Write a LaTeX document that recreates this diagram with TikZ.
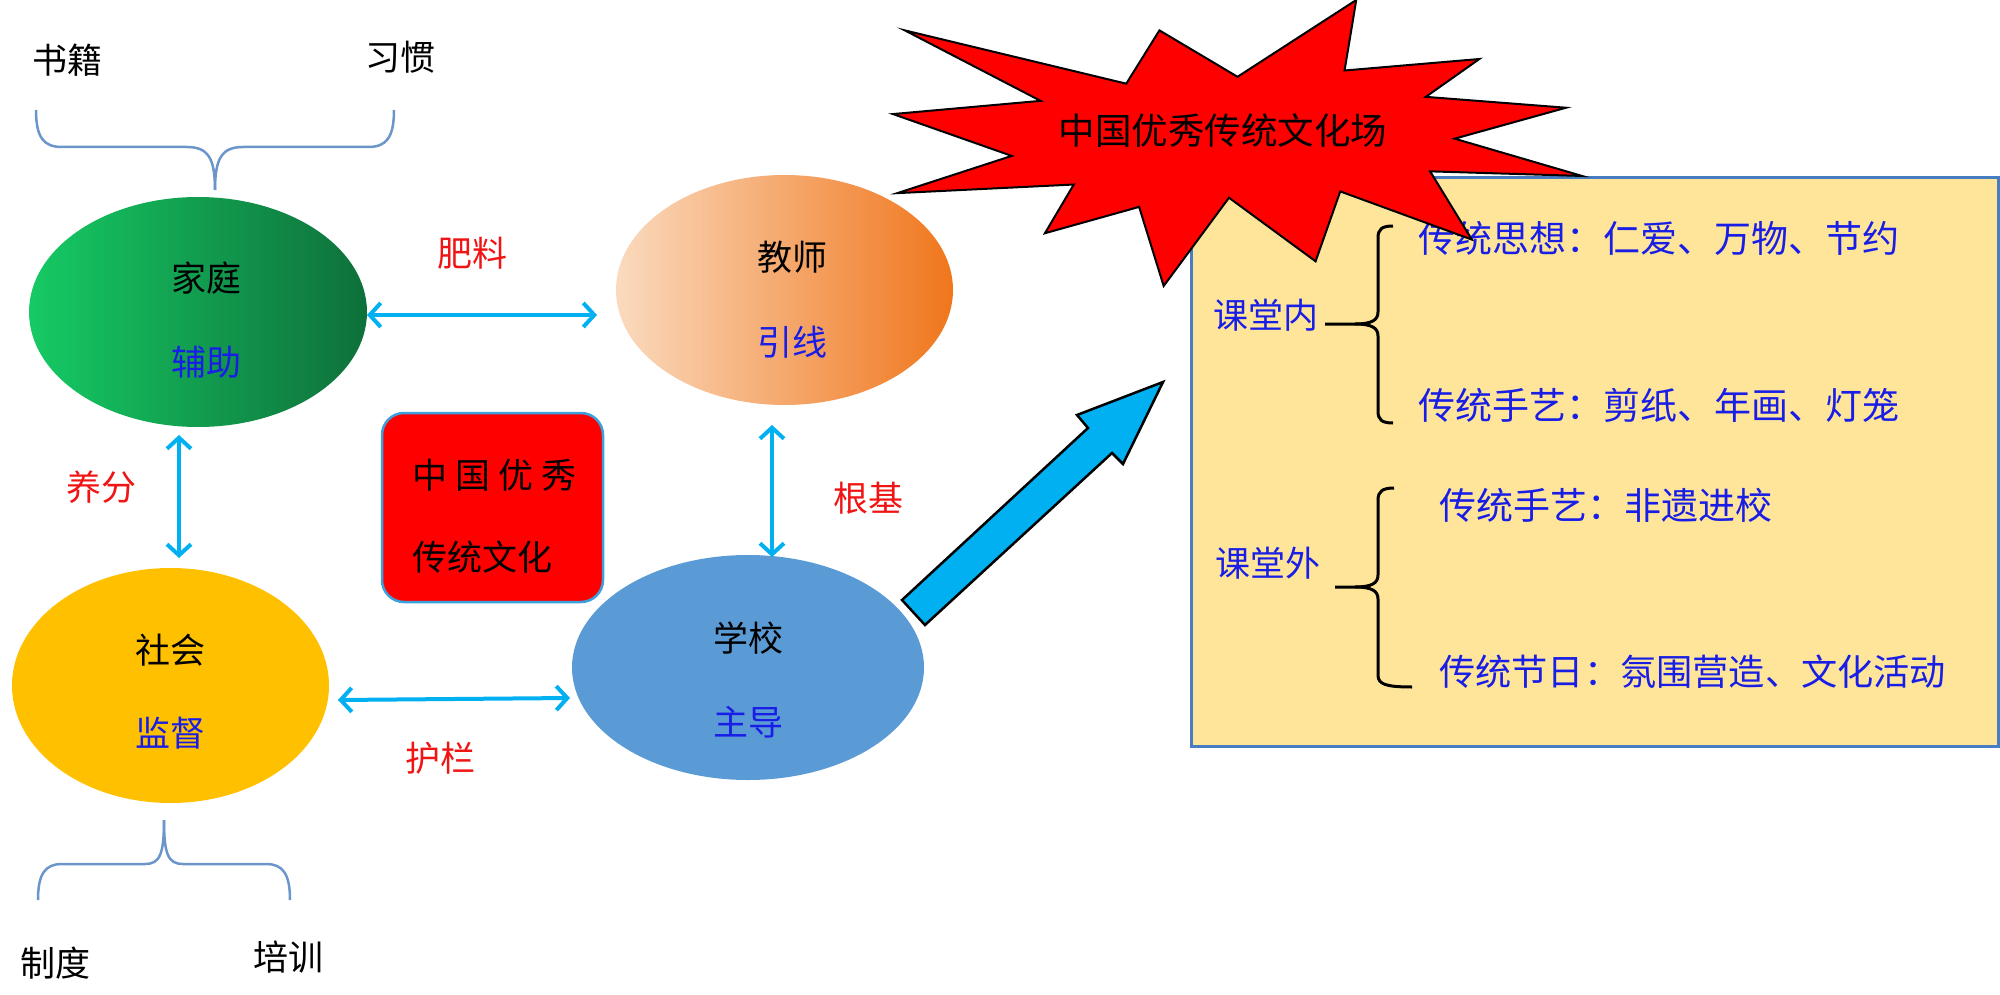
\documentclass[tikz,border=0pt]{standalone}
\usepackage{fontspec}
\setmainfont{Noto Sans CJK SC}
\usetikzlibrary{arrows.meta,calc,shapes.geometric}
\definecolor{arrcyan}{RGB}{0,176,240}
\definecolor{bracegray}{RGB}{108,150,202}
\definecolor{lblred}{RGB}{240,20,20}
\definecolor{txtblue}{RGB}{25,30,230}
\definecolor{boxfill}{RGB}{255,229,153}
\definecolor{boxedge}{RGB}{70,125,195}
\definecolor{gleft}{RGB}{22,202,100}
\definecolor{gright}{RGB}{14,112,58}
\definecolor{oleft}{RGB}{250,218,190}
\definecolor{omid}{RGB}{242,148,70}
\definecolor{oright}{RGB}{240,118,28}
\definecolor{syellow}{RGB}{255,192,0}
\definecolor{sblue}{RGB}{91,155,213}
\definecolor{redboxedge}{RGB}{60,160,220}
\begin{document}
\begin{tikzpicture}[x=1pt,y=-1pt,
  ell/.style={ellipse,draw=none,inner sep=0pt,outer sep=0pt},
  txt/.style={inner sep=0pt,font=\fontsize{35}{42}\selectfont},
  blk/.style={txt,text=black},
  blu/.style={txt,text=txtblue},
  rlbl/.style={txt,text=lblred},
  boxtxt/.style={inner sep=0pt,font=\fontsize{37}{42}\selectfont,text=txtblue,anchor=west},
  dbl/.style={draw=arrcyan,line width=4pt,{Straight Barb[length=11pt,width=24pt]}-{Straight Barb[length=11pt,width=24pt]}},
  grbrace/.style={draw=bracegray,line width=2.5pt},
  bkbrace/.style={draw=black,line width=3pt},
  starshape/.style={fill=red,draw=black,line width=2pt,line join=miter},
  bigarrow/.style={fill=arrcyan,draw=black,line width=2.5pt,line join=miter}
]
\useasboundingbox (0,0) rectangle (2000,995);

% ---- top brace and labels
\node[blk] (shuji) at (67,60) {书籍};
\node[blk] (xiguan) at (400,57) {习惯};
\draw[grbrace] (36,110) .. controls (36,138) and (44,147) .. (62,147) -- (187,147) .. controls (208,147) and (215,158) .. (215,190);
\draw[grbrace] (394,110) .. controls (394,138) and (386,147) .. (368,147) -- (243,147) .. controls (222,147) and (215,158) .. (215,190);

% ---- bottom brace and labels
\draw[grbrace] (38,900) .. controls (38,874) and (45,864) .. (62,864) -- (145,864) .. controls (160,864) and (164,854) .. (164,820);
\draw[grbrace] (290,900) .. controls (290,874) and (283,864) .. (266,864) -- (183,864) .. controls (168,864) and (164,854) .. (164,820);
\node[blk] (zhidu) at (55,963) {制度};
\node[blk] (peixun) at (288,957) {培训};

% ---- ellipses
\node[ell,minimum width=338pt,minimum height=230pt,left color=gleft,right color=gright] (jt) at (198,312) {};
\node[ell,minimum width=337pt,minimum height=230pt,left color=oleft,middle color=omid,right color=oright] (js) at (784.5,290) {};
\node[ell,minimum width=317pt,minimum height=235pt,fill=syellow] (sh) at (170.5,685.5) {};
\node[ell,minimum width=352pt,minimum height=225pt,fill=sblue] (xs) at (748,667.5) {};

\node[blk] (jt1) at (206,278) {家庭};
\node[blu] (jt2) at (206,362) {辅助};
\node[blk] (js1) at (792,257) {教师};
\node[blu] (js2) at (792,342) {引线};
\node[blk] (sh1) at (170,650) {社会};
\node[blu] (sh2) at (170,733) {监督};
\node[blk] (xs1) at (748,638) {学校};
\node[blu] (xs2) at (748,722) {主导};

% ---- connectors
\draw[dbl,shorten >=19pt] ([yshift=-3pt]jt.east) -- ([yshift=-3pt]jt.east -| js.west);
\draw[dbl] ([xshift=-19pt,yshift=-8pt]jt.south) -- ([xshift=8.5pt,yshift=10pt]sh.north);
\draw[dbl] ([xshift=-12.5pt,yshift=-20pt]js.south) -- ([xshift=24pt,yshift=-2pt]xs.north);
\draw[dbl] ([xshift=9pt,yshift=-14.5pt]sh.east) -- ([xshift=-2pt,yshift=-30.5pt]xs.west);

\node[rlbl] (feiliao) at (472,253) {肥料};
\node[rlbl] (yangfen) at (101,487) {养分};
\node[rlbl] (genji) at (868,498) {根基};
\node[rlbl] (hulan) at (440,758) {护栏};

% ---- central red box
\node[draw=redboxedge,fill=red,line width=2.5pt,rounded corners=22pt,minimum width=221pt,minimum height=189pt,inner sep=0pt] (cbox) at (492.5,507.5) {};
\node[blk,anchor=west] (cb1) at (412,475) {中\hspace{8pt}国\hspace{8pt}优\hspace{8pt}秀};
\node[blk,anchor=west] (cb2) at (412,557) {传统文化};

% ---- big arrow
\draw[bigarrow] (902,600) -- (1088,428) -- (1077,415) -- (1163,382) -- (1123,464) -- (1112,453) -- (925,625) -- cycle;

% ---- yellow box
\node[draw=boxedge,fill=boxfill,line width=3pt,minimum width=807pt,minimum height=569pt,inner sep=0pt,anchor=north west] (ybox) at (1190,176) {};
\node[boxtxt,anchor=center,font=\fontsize{35}{42}\selectfont] (ktn) at (1266,315) {课堂内};
\node[boxtxt,anchor=center,font=\fontsize{35}{42}\selectfont] (ktw) at (1268,563) {课堂外};
\draw[bkbrace] (1393,226) .. controls (1382,226) and (1378,229) .. (1378,238) -- (1378,312) .. controls (1378,320) and (1372,324) .. (1355,324) -- (1325,324);
\draw[bkbrace] (1355,324) .. controls (1372,324) and (1378,328) .. (1378,336) -- (1378,411) .. controls (1378,420) and (1382,423) .. (1393,423);
\draw[bkbrace] (1394,488) .. controls (1383,488) and (1378,491) .. (1378,500) -- (1378,575) .. controls (1378,583) and (1372,587) .. (1355,587) -- (1335,587);
\draw[bkbrace] (1355,587) .. controls (1372,587) and (1378,591) .. (1378,599) -- (1378,675) .. controls (1378,684) and (1385,687) .. (1412,687);
\node[boxtxt] (t1) at (1418,238) {传统思想：仁爱、万物、节约};
\node[boxtxt] (t2) at (1418,405) {传统手艺：剪纸、年画、灯笼};
\node[boxtxt] (t3) at (1439,505) {传统手艺：非遗进校};
\node[boxtxt,font=\fontsize{36.2}{42}\selectfont] (t4) at (1439,672) {传统节日：氛围营造、文化活动};

% ---- explosion star
\begin{scope}[shift={(893,0)},xscale=3.19,yscale=1.324]
\draw[starshape] (108,58) -- (145.22,0) -- (141.55,53.25) -- (183.8,44.57) -- (167.02,73.15) -- (210.97,81.37) -- (176.07,104.75) -- (216,132.9) -- (168.37,129.42) -- (181.45,180.95) -- (140.2,144.57) -- (132.47,197.37) -- (105.32,149.35) -- (84.85,216) -- (77.15,156.27) -- (47.62,176.17) -- (56.67,139.37) -- (1.35,145.87) -- (37.22,117.75) -- (0,86.15) -- (46.27,76.17) -- (3.7,22.95) -- (73.12,63.2) -- (83.52,22.95) -- cycle;
\end{scope}
\node[inner sep=0pt,font=\fontsize{36.5}{42}\selectfont] (startxt) at (1223,131) {中国优秀传统文化场};
\end{tikzpicture}
\end{document}
